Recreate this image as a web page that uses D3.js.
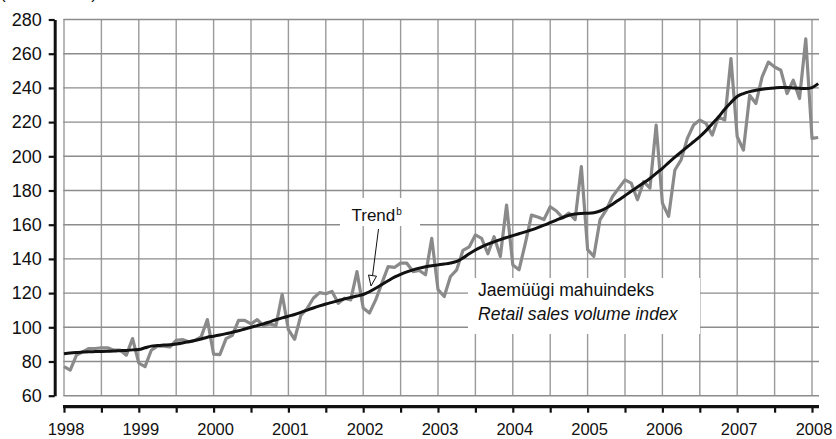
<!DOCTYPE html>
<html><head><meta charset="utf-8">
<script src="https://cdn.jsdelivr.net/npm/d3@7"></script>
<style>
html,body{margin:0;padding:0;background:#fff;}
svg{display:block;font-family:"Liberation Sans",Arial,Helvetica,sans-serif;}
</style></head>
<body>
<svg id="chart" width="836" height="439"></svg>
<script>
// ---- data ----
const startYear = 1998;
const yearLabels = ["1998","1999","2000","2001","2002","2003","2004","2005","2006","2007","2008"];
const yTicks = [60,80,100,120,140,160,180,200,220,240,260,280];
// Retail sales volume index, monthly Jan 1998 - Feb 2008
const salesIndex = [
  77, 75, 83.7, 85.6, 87.6, 87.6, 88, 88, 86.6, 86.7, 83.7, 93.4,
  79, 77, 86.6, 89, 89, 88.5, 92.4, 92.8, 91.5, 92.4, 94.4, 104.5,
  84.3, 84, 93.4, 95.3, 104, 104, 102, 104.5, 101, 102, 101, 119.3,
  98.6, 93, 107, 111, 117, 120.3, 119.6, 121, 114, 117, 116, 132.6,
  111.3, 108.3, 116, 125.8, 135.5, 135, 137.5, 137.5, 132.6, 133.2, 130.7, 152,
  122, 118, 129.7, 133.6, 145, 147, 154, 152, 143, 153, 141.4, 171.5,
  136.5, 133.6, 149, 165.6, 164.5, 163, 170.5, 168, 164, 166.8, 163, 194,
  145.4, 141.5, 163, 168.7, 176.5, 181.4, 186.2, 184.3, 174.6, 185.2, 181.4, 218.3,
  172.6, 164.9, 192, 197.9, 210.5, 218.3, 221.2, 219.2, 212.4, 223.1, 221.2, 257.1,
  211.5, 203.7, 235.7, 230.9, 246.4, 255.1, 252.2, 250.3, 236.7, 244.5, 233.8, 268.7,
  210.5, 211
];
const trendIndex = [
  84.5, 85, 85.3, 85.5, 85.7, 85.8, 85.9, 86, 86.1, 86.3, 86.5, 86.8,
  87, 88, 89, 89.3, 89.6, 89.8, 90.2, 90.8, 91.5, 92.3, 93.2, 94.2,
  94.8, 95.5, 96.3, 97.1, 98, 99, 100, 101, 102, 103.2, 104.4, 105.5,
  106.5, 107.5, 108.7, 110, 111.3, 112.5, 113.6, 114.6, 115.6, 116.6, 117.5, 118.3,
  119.2, 120.8, 122.8, 125, 127.2, 129.3, 131, 132.4, 133.6, 134.6, 135.4, 136,
  136.5, 137, 137.6, 138.5, 140.5, 143, 145.2, 147, 148.6, 150, 151.3, 152.5,
  153.6, 154.7, 155.8, 157, 158.3, 159.7, 161.2, 162.7, 164.2, 165.5, 166.3, 166.6,
  166.7, 167, 168, 169.8, 172, 174.5, 177, 179.5, 182, 184.5, 187, 190,
  193, 196.3, 199.5, 202.5, 205.5, 208.5, 211.5, 215, 219, 223, 227.5, 231.5,
  235, 236.7, 237.8, 238.6, 239.2, 239.7, 240, 240.2, 240.2, 240, 239.8, 239.6,
  240.2, 242.5
];
const labelTrend = "Trend";
const labelTrendSup = "b";
const labelSalesEt = "Jaemüügi mahuindeks";
const labelSalesEn = "Retail sales volume index";
const unitLabel = "(2000 = 100)";

// ---- layout ----
const svg = d3.select("#chart");
const x = d3.scaleLinear().domain([1998, 2008]).range([64, 812]);
const y = d3.scaleLinear().domain([60, 280]).range([395.7, 19.5]);
const plotRight = 819;
const halfYears = d3.range(0, 21).map(i => 1998 + i / 2);
const t = i => startYear + i / 12;

// unit label (cut off at top, as in the source)
svg.append("text").attr("x", 0).attr("y", -1).attr("font-size", 17).attr("fill", "#111").text(unitLabel);

// grid
const grid = svg.append("g");
grid.selectAll("line.v").data(halfYears).join("line")
  .attr("x1", d => x(d)).attr("x2", d => x(d))
  .attr("y1", y(280)).attr("y2", y(60))
  .attr("stroke", "#9a9a9a").attr("stroke-width", 1.4);
grid.selectAll("line.h").data(yTicks).join("line")
  .attr("x1", x(1998) - 0.7).attr("x2", plotRight)
  .attr("y1", d => y(d)).attr("y2", d => y(d))
  .attr("stroke", "#8c8c8c").attr("stroke-width", 1.4);

// label backgrounds
svg.append("rect").attr("x", 340).attr("y", 198).attr("width", 80).attr("height", 28).attr("fill", "#fff");
svg.append("rect").attr("x", 468).attr("y", 278).attr("width", 232).attr("height", 56).attr("fill", "#fff");

// lines
const lineGen = d3.line().x((d, i) => x(t(i))).y(d => y(d));
svg.append("path").datum(salesIndex).attr("d", lineGen)
  .attr("fill", "none").attr("stroke", "#8a8a8a").attr("stroke-width", 3.2).attr("stroke-linejoin", "round");
svg.append("path").datum(trendIndex).attr("d", lineGen.curve(d3.curveMonotoneX))
  .attr("fill", "none").attr("stroke", "#111").attr("stroke-width", 3).attr("stroke-linejoin", "round");

// y axis
const yAxis = svg.append("g").attr("transform", "translate(54.7,0)")
  .call(d3.axisLeft(y).tickValues(yTicks).tickSize(6).tickSizeOuter(0).tickPadding(7));
yAxis.select(".domain").attr("stroke", "#111").attr("stroke-width", 3);
yAxis.selectAll(".tick line").attr("stroke", "#111").attr("stroke-width", 2.2);
yAxis.selectAll(".tick text").attr("font-size", 18).attr("fill", "#111")
  .attr("font-family", "'Liberation Sans',Arial,sans-serif");

// x axis
const xAxis = svg.append("g").attr("transform", "translate(0,406.7)")
  .call(d3.axisBottom(x).tickValues(halfYears).tickSize(6).tickSizeOuter(0).tickPadding(11)
    .tickFormat(d => Number.isInteger(d) ? yearLabels[d - 1998] : ""));
xAxis.select(".domain").attr("d", `M${x(1998) - 1},0H${plotRight}`).attr("stroke", "#111").attr("stroke-width", 3.2);
xAxis.selectAll(".tick line").attr("stroke", "#111").attr("stroke-width", 2.2);
xAxis.selectAll(".tick text").attr("font-size", 16.5).attr("fill", "#111").attr("dx", 1.5)
  .attr("font-family", "'Liberation Sans',Arial,sans-serif");

// Trend annotation
const tt = svg.append("text").attr("x", 351.5).attr("y", 221).attr("font-size", 17).attr("fill", "#111");
tt.append("tspan").text(labelTrend);
tt.append("tspan").attr("font-size", 10).attr("dy", -6).attr("dx", 1).text(labelTrendSup);
svg.append("line").attr("x1", 378.5).attr("y1", 229).attr("x2", 372.5).attr("y2", 276)
  .attr("stroke", "#111").attr("stroke-width", 1);
svg.append("path").attr("d", "M368.5,275 L376.5,276.2 L371,286 Z")
  .attr("fill", "#fff").attr("stroke", "#111").attr("stroke-width", 1);

// Series label
svg.append("text").attr("x", 478).attr("y", 296).attr("font-size", 17.6).attr("fill", "#111").text(labelSalesEt);
svg.append("text").attr("x", 478).attr("y", 319.5).attr("font-size", 17.6).attr("font-style", "italic").attr("fill", "#111").text(labelSalesEn);
</script>
</body></html>
